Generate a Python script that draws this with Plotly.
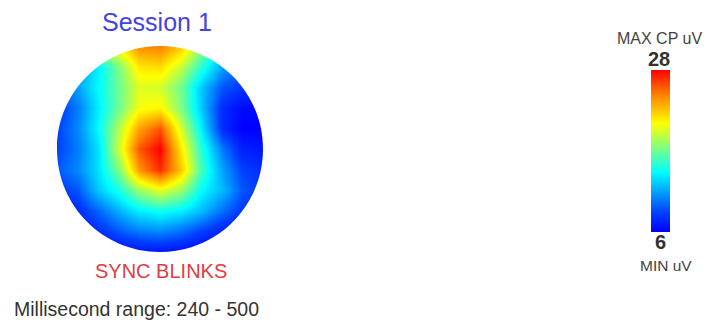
import plotly.graph_objects as go

# Scalp grid positions (normalised head radius = 1)
grid_x = [-1.0, -0.8, -0.6, -0.4, -0.2, 0.0, 0.2, 0.4, 0.6, 0.8, 1.0]
grid_y_top_down = [1.0, 0.8, 0.6, 0.4, 0.2, 0.0, -0.2, -0.4, -0.6, -0.8, -1.0]

# Amplitude (uV) at each grid position, rows listed from front (top) to back
amp_rows = [
    [12.6, 14.8, 18.1, 21.4, 24.3, 24.7, 22.5, 18.1, 13.7, 11.5, 9.3],
    [10.4, 11.5, 13.7, 17.4, 21.4, 21.8, 19.2, 15.2, 11.5, 9.3, 8.2],
    [9.3, 11.5, 14.1, 17.0, 19.9, 19.6, 17.0, 12.6, 9.3, 8.2, 7.8],
    [8.2, 10.4, 13.7, 17.0, 20.5, 21.0, 17.4, 12.6, 7.8, 6.4, 6.4],
    [8.6, 10.8, 14.1, 18.8, 23.6, 25.8, 19.6, 13.7, 7.8, 6.0, 6.0],
    [8.6, 10.4, 13.3, 19.6, 25.8, 28.0, 21.4, 15.2, 10.4, 7.3, 6.9],
    [9.3, 10.8, 13.3, 17.4, 24.0, 26.9, 22.5, 15.9, 11.5, 8.6, 7.8],
    [8.2, 9.3, 12.6, 14.8, 18.1, 20.1, 18.1, 14.1, 12.2, 9.3, 8.2],
    [7.1, 7.8, 9.7, 11.9, 13.7, 14.4, 13.7, 12.2, 10.0, 8.2, 7.3],
    [6.4, 6.9, 7.8, 9.3, 10.4, 10.8, 10.0, 8.6, 7.3, 6.7, 6.4],
    [6.0, 6.0, 6.0, 6.4, 6.7, 6.7, 6.4, 6.0, 6.0, 6.0, 6.0],
]

amp_min = 6
amp_max = 28
session_title = "Session 1"
condition_label = "SYNC BLINKS"
ms_start, ms_end = 240, 500

colorscale = [
    [0.0, "#0000ff"],
    [0.12, "#0040ff"],
    [0.37, "#00ffff"],
    [0.52, "#80ff80"],
    [0.67, "#ffff00"],
    [0.85, "#ff7f00"],
    [1.0, "#ff0000"],
]

fig = go.Figure()
fig.add_trace(
    go.Heatmap(
        x=grid_x,
        y=grid_y_top_down[::-1],
        z=amp_rows[::-1],
        zmin=amp_min,
        zmax=amp_max,
        zsmooth="best",
        colorscale=colorscale,
        hoverinfo="skip",
        colorbar=dict(
            xref="paper", yref="paper",
            x=651 / 705, xanchor="left", xpad=0,
            y=(321 - 232) / 321, yanchor="bottom", ypad=0,
            thickness=19, thicknessmode="pixels",
            len=162, lenmode="pixels",
            outlinewidth=0, showticklabels=False, ticks="",
        ),
    )
)

# White mask outside the head circle (cubic Bezier circle, even-odd fill)
k = 0.5523
mask_path = (
    "M-1.3,-1.3 L1.3,-1.3 L1.3,1.3 L-1.3,1.3 Z "
    f"M1,0 C1,{k} {k},1 0,1 C{-k},1 -1,{k} -1,0 "
    f"C-1,{-k} {-k},-1 0,-1 C{k},-1 1,{-k} 1,0 Z"
)
fig.add_shape(
    type="path", path=mask_path, xref="x", yref="y",
    fillcolor="white", fillrule="evenodd", line=dict(width=0), layer="above",
)

font_family = "Liberation Sans, Arial, sans-serif"
annotations = [
    dict(text=session_title, x=157 / 705, y=1 - 22 / 321, font=dict(size=25, color="#4343e3")),
    dict(text=condition_label, x=161 / 705, y=1 - 271 / 321, font=dict(size=20, color="#e03c44")),
    dict(text=f"Millisecond range: {ms_start} - {ms_end}", x=13 / 705, y=0,
         xanchor="left", yanchor="bottom", borderpad=0,
         font=dict(size=19.5, color="#333333")),
    dict(text="MAX CP uV", x=659 / 705, y=1 - 38 / 321, font=dict(size=16, color="#444444")),
    dict(text=f"<b>{amp_max}</b>", x=659 / 705, y=1 - 59 / 321, font=dict(size=20, color="#333333")),
    dict(text=f"<b>{amp_min}</b>", x=660 / 705, y=1 - 242 / 321, font=dict(size=20, color="#333333")),
    dict(text="MIN uV", x=666 / 705, y=1 - 265.5 / 321, font=dict(size=15.5, color="#444444")),
]
for a in annotations:
    a.setdefault("xanchor", "center")
    a.setdefault("yanchor", "middle")
    a.update(xref="paper", yref="paper", showarrow=False)
    a["font"]["family"] = font_family

fig.update_layout(
    width=705, height=321,
    margin=dict(l=0, r=0, t=0, b=0),
    paper_bgcolor="white", plot_bgcolor="white",
    xaxis=dict(range=[-1, 1], domain=[57 / 705, 263 / 705], visible=False, fixedrange=True),
    yaxis=dict(range=[-1, 1], domain=[(321 - 252) / 321, (321 - 46) / 321], visible=False, fixedrange=True),
    annotations=annotations,
    showlegend=False,
)

fig.write_html("out.html")
